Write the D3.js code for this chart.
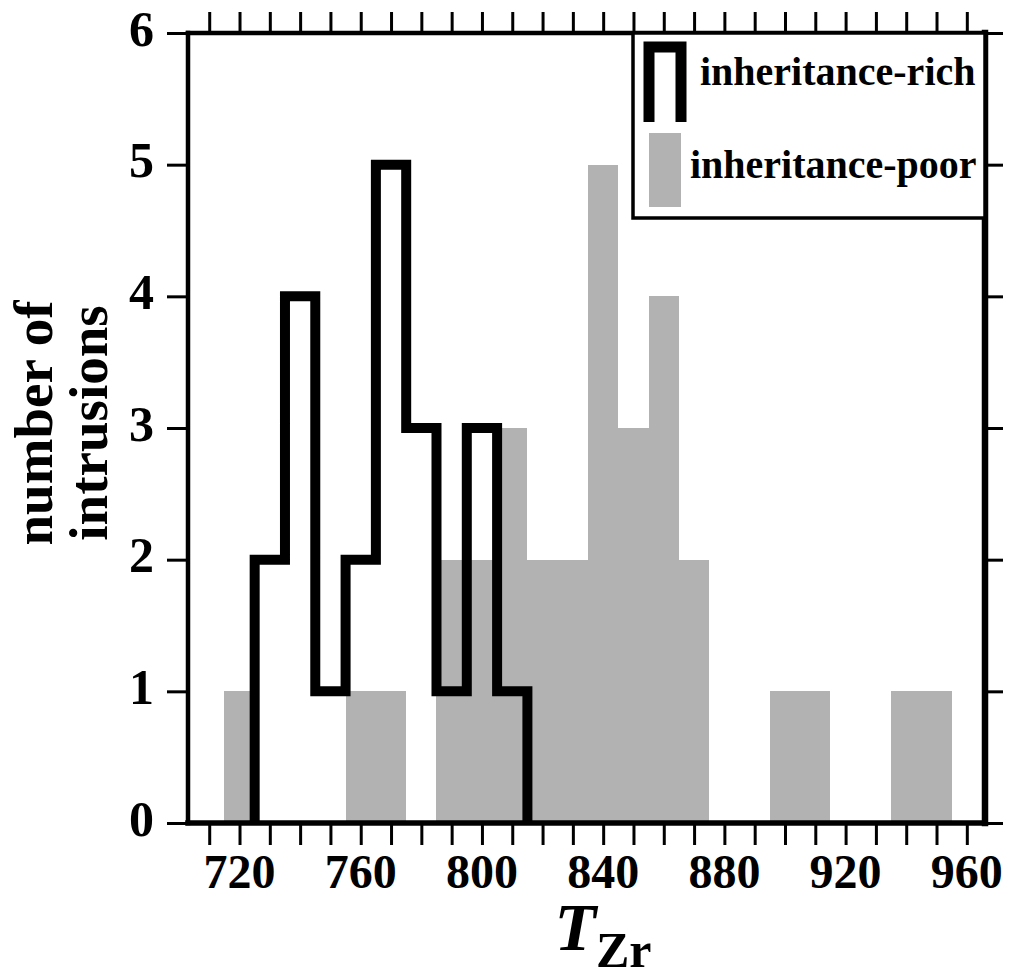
<!DOCTYPE html>
<html>
<head>
<meta charset="utf-8">
<script src="https://cdn.jsdelivr.net/npm/d3@7"></script>
<style>
  html, body { margin: 0; padding: 0; background: #fff; }
  svg { display: block; }
  text { font-family: "Liberation Serif", "Times New Roman", serif; font-weight: bold; fill: #000; }
</style>
</head>
<body>
<svg id="chart" width="1009" height="979"></svg>
<script>
// Zircon saturation temperature histograms (bins of 10, labelled by bin centre)
const binWidth = 10;
const richBins   = [730, 740, 750, 760, 770, 780, 790, 800, 810];
const richCounts = [2, 4, 1, 2, 5, 3, 1, 3, 1];
const poorBins   = [720, 760, 770, 790, 800, 810, 820, 830, 840, 850, 860, 870, 900, 910, 940, 950];
const poorCounts = [1, 1, 1, 2, 2, 3, 2, 2, 5, 3, 4, 2, 1, 1, 1, 1];

const xMinorTicks = [710, 720, 730, 740, 750, 760, 770, 780, 790, 800, 810, 820, 830,
                     840, 850, 860, 870, 880, 890, 900, 910, 920, 930, 940, 950, 960];
const xLabelTicks = [720, 760, 800, 840, 880, 920, 960];
const yTicks = [0, 1, 2, 3, 4, 5, 6];
const legendLabels = ["inheritance-rich", "inheritance-poor"];
const yTitleLines = ["number of", "intrusions"];

const svg = d3.select("#chart");
const x = d3.scaleLinear().domain([703, 966]).range([188, 985]);
const y = d3.scaleLinear().domain([0, 6]).range([823, 33]);
const gray = "#b2b2b2";

// inheritance-poor: filled grey bars
svg.append("g")
  .attr("shape-rendering", "crispEdges")
  .selectAll("rect")
  .data(poorBins.map((c, i) => ({ c, n: poorCounts[i] })))
  .join("rect")
  .attr("x", d => Math.round(x(d.c - binWidth / 2)))
  .attr("width", d => Math.round(x(d.c + binWidth / 2)) - Math.round(x(d.c - binWidth / 2)))
  .attr("y", d => y(d.n))
  .attr("height", d => y(0) - y(d.n))
  .attr("fill", gray);

// inheritance-rich: heavy outline step
const stepPts = [[richBins[0] - binWidth / 2, 0]];
richBins.forEach((c, i) => {
  stepPts.push([c - binWidth / 2, richCounts[i]]);
  stepPts.push([c + binWidth / 2, richCounts[i]]);
});
stepPts.push([richBins[richBins.length - 1] + binWidth / 2, 0]);
svg.append("path")
  .attr("d", d3.line().x(d => x(d[0])).y(d => y(d[1]))(stepPts))
  .attr("fill", "none")
  .attr("stroke", "#000")
  .attr("stroke-width", 10)
  .attr("stroke-linejoin", "miter");

// tick marks on all four sides
function styleAxis(g) {
  g.select(".domain").remove();
  g.selectAll(".tick line").attr("stroke", "#000").attr("stroke-width", 3);
}
svg.append("g").attr("transform", `translate(0,${y(0)})`)
  .call(d3.axisBottom(x).tickValues(xMinorTicks).tickSize(22).tickFormat(""))
  .call(styleAxis);
svg.append("g").attr("transform", `translate(0,${y(6)})`)
  .call(d3.axisTop(x).tickValues(xMinorTicks).tickSize(21).tickFormat(""))
  .call(styleAxis);
svg.append("g").attr("transform", `translate(${x.range()[0]},0)`)
  .call(d3.axisLeft(y).tickValues(yTicks).tickSize(21).tickFormat(""))
  .call(styleAxis);
svg.append("g").attr("transform", `translate(${x.range()[1]},0)`)
  .call(d3.axisRight(y).tickValues(yTicks).tickSize(18).tickFormat(""))
  .call(styleAxis);

// frame
const [x0, x1] = x.range();
const [yb, yt] = y.range();
const frame = svg.append("g").attr("stroke", "#000").attr("stroke-linecap", "square");
frame.append("line").attr("x1", x0).attr("x2", x1).attr("y1", yt).attr("y2", yt).attr("stroke-width", 4.5);
frame.append("line").attr("x1", x0).attr("x2", x1).attr("y1", yb).attr("y2", yb).attr("stroke-width", 5.5);
frame.append("line").attr("x1", x0).attr("x2", x0).attr("y1", yt).attr("y2", yb).attr("stroke-width", 4.5);
frame.append("line").attr("x1", x1).attr("x2", x1).attr("y1", yt).attr("y2", yb).attr("stroke-width", 6.5);

// x tick labels
svg.append("g")
  .selectAll("text")
  .data(xLabelTicks)
  .join("text")
  .attr("x", d => x(d))
  .attr("y", 888)
  .attr("text-anchor", "middle")
  .attr("font-size", 48)
  .text(d => d);

// y tick labels
svg.append("g")
  .selectAll("text")
  .data(yTicks)
  .join("text")
  .attr("x", 154)
  .attr("y", d => y(d) + 12.5)
  .attr("text-anchor", "end")
  .attr("font-size", 50)
  .text(d => d);

// y title (two lines, rotated)
const yTitle = svg.append("text")
  .attr("transform", "translate(0,423) rotate(-90)")
  .attr("text-anchor", "middle")
  .attr("font-size", 55);
yTitle.selectAll("tspan")
  .data(yTitleLines)
  .join("tspan")
  .attr("x", 0)
  .attr("y", (d, i) => 52 + i * 55)
  .text(d => d);

// x title: T subscript Zr
const xTitle = svg.append("text")
  .attr("x", 603)
  .attr("y", 950)
  .attr("text-anchor", "middle");
xTitle.append("tspan").attr("font-size", 68).attr("font-style", "italic").text("T");
xTitle.append("tspan").attr("font-size", 50).attr("dy", 17).text("Zr");

// legend
const legend = svg.append("g");
legend.append("rect")
  .attr("x", 633).attr("y", 33)
  .attr("width", 985 - 633).attr("height", 218 - 33)
  .attr("fill", "#fff").attr("stroke", "#000").attr("stroke-width", 3.5);
legend.append("path")
  .attr("d", "M649,122V47H681V122")
  .attr("fill", "none").attr("stroke", "#000").attr("stroke-width", 11)
  .attr("stroke-linejoin", "miter");
legend.append("rect")
  .attr("x", 649).attr("y", 133).attr("width", 32).attr("height", 74)
  .attr("fill", gray);
legend.append("text").attr("x", 700).attr("y", 85).attr("font-size", 40).text(legendLabels[0]);
legend.append("text").attr("x", 690).attr("y", 178).attr("font-size", 40).text(legendLabels[1]);
</script>
</body>
</html>
